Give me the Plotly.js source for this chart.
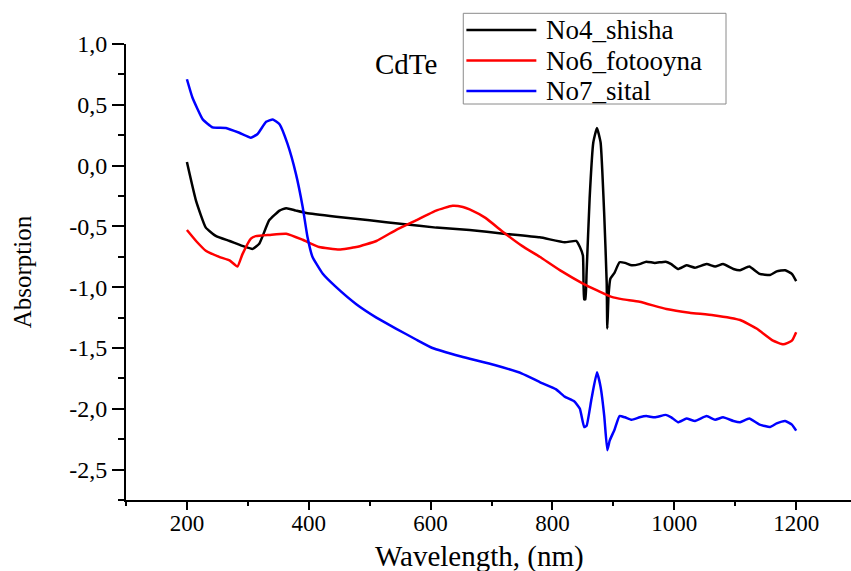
<!DOCTYPE html>
<html>
<head>
<meta charset="utf-8">
<script src="https://cdn.plot.ly/plotly-3.0.1.min.js"></script>
<style>
  html, body { margin: 0; padding: 0; background: #fff; }
  #chart { width: 851px; height: 571px; }
</style>
</head>
<body>
<div id="chart"></div>
<script>
// ---- Data ----
const wlShisha = [200, 215, 231, 248, 270, 291, 308, 319, 335, 352, 363, 379, 396, 445, 500, 554, 609, 664, 720, 779, 820, 839, 845, 850, 852, 854, 856, 861, 867, 873, 879, 885, 889, 890, 892, 895, 902, 910, 919, 930, 943, 954, 968, 986, 995, 1006, 1020, 1034, 1053, 1067, 1080, 1097, 1108, 1123, 1140, 1157, 1168, 1182, 1193, 1200];
const absShisha = [0.03, -0.29, -0.51, -0.58, -0.62, -0.66, -0.685, -0.64, -0.45, -0.37, -0.35, -0.37, -0.39, -0.42, -0.45, -0.48, -0.51, -0.53, -0.56, -0.59, -0.63, -0.62, -0.67, -0.74, -1.10, -1.10, -0.88, -0.27, 0.19, 0.31, 0.19, -0.41, -0.96, -1.34, -1.07, -0.93, -0.88, -0.795, -0.80, -0.82, -0.81, -0.79, -0.80, -0.79, -0.81, -0.85, -0.82, -0.84, -0.81, -0.83, -0.81, -0.85, -0.86, -0.83, -0.89, -0.90, -0.87, -0.86, -0.89, -0.95];

const wlFoto = [200, 215, 231, 253, 270, 283, 291, 305, 313, 335, 363, 390, 417, 450, 478, 511, 543, 576, 609, 636, 653, 664, 690, 720, 750, 779, 812, 850, 875, 897, 916, 943, 987, 1025, 1064, 1108, 1135, 1162, 1179, 1193, 1200];
const absFoto = [-0.53, -0.62, -0.70, -0.75, -0.78, -0.83, -0.73, -0.60, -0.58, -0.57, -0.56, -0.61, -0.67, -0.69, -0.67, -0.62, -0.53, -0.45, -0.37, -0.33, -0.34, -0.36, -0.43, -0.55, -0.66, -0.75, -0.86, -0.97, -1.03, -1.08, -1.10, -1.12, -1.18, -1.21, -1.23, -1.27, -1.34, -1.44, -1.47, -1.44, -1.37];

const wlSital = [200, 209, 226, 242, 264, 286, 305, 316, 330, 341, 352, 365, 379, 390, 398, 406, 423, 445, 478, 511, 543, 576, 603, 650, 705, 750, 779, 806, 820, 836, 845, 852, 856, 864, 873, 879, 885, 890, 894, 902, 910, 919, 930, 943, 954, 968, 986, 995, 1006, 1020, 1034, 1053, 1067, 1080, 1097, 1108, 1123, 1140, 1157, 1168, 1182, 1193, 1200];
const absSital = [0.71, 0.56, 0.38, 0.315, 0.31, 0.27, 0.23, 0.26, 0.36, 0.38, 0.34, 0.18, -0.07, -0.34, -0.59, -0.75, -0.89, -1.00, -1.14, -1.25, -1.34, -1.43, -1.50, -1.57, -1.64, -1.71, -1.78, -1.84, -1.90, -1.94, -2.00, -2.15, -2.14, -1.92, -1.70, -1.82, -2.06, -2.34, -2.26, -2.17, -2.06, -2.07, -2.09, -2.07, -2.06, -2.07, -2.05, -2.07, -2.11, -2.08, -2.10, -2.06, -2.09, -2.07, -2.10, -2.11, -2.08, -2.13, -2.15, -2.12, -2.10, -2.13, -2.18];

const seriesNames = ["No4_shisha", "No6_fotooyna", "No7_sital"];
const seriesColors = ["#000000", "#ff0000", "#0000ff"];
const legendLabel = "CdTe";

const xTickVals = [200, 400, 600, 800, 1000, 1200];
const xTickText = ["200", "400", "600", "800", "1000", "1200"];
const yTickVals = [1.0, 0.5, 0.0, -0.5, -1.0, -1.5, -2.0, -2.5];
const yTickText = ["1,0", "0,5", "0,0", "-0,5", "-1,0", "-1,5", "-2,0", "-2,5"];

const xTitle = "Wavelength, (nm)";
const yTitle = "Absorption";

// ---- Figure ----
const FONT = "Liberation Serif";
const xs = [wlShisha, wlFoto, wlSital];
const ys = [absShisha, absFoto, absSital];

const traces = xs.map((x, i) => ({
  x: x, y: ys[i], name: seriesNames[i], type: "scatter", mode: "lines",
  line: { color: seriesColors[i], width: 2.5, shape: "spline", smoothing: 0.4 },
  showlegend: false
}));

// manual legend (Origin-style box with long line samples)
const L = { x0: 0.4652, x1: 0.8276, y0: 0.8684, y1: 1.0673, lx0: 0.4695, lx1: 0.5660, tx: 0.5779,
            rows: [1.0307, 0.9638, 0.8969] };
const shapes = [{
  type: "rect", xref: "paper", yref: "paper", x0: L.x0, x1: L.x1, y0: L.y0, y1: L.y1,
  line: { color: "#8a8a8a", width: 1 }, fillcolor: "rgba(255,255,255,0)"
}];
const annotations = [];
seriesNames.forEach((n, i) => {
  shapes.push({ type: "line", xref: "paper", yref: "paper", x0: L.lx0, x1: L.lx1, y0: L.rows[i], y1: L.rows[i],
                line: { color: seriesColors[i], width: 2.5 } });
  annotations.push({ xref: "paper", yref: "paper", x: L.tx, y: L.rows[i], xanchor: "left", yanchor: "middle",
                     text: n, showarrow: false, borderpad: 0, font: { family: FONT, size: 27, color: "#000" } });
});
annotations.push({ xref: "paper", yref: "paper", x: 0.3862, y: 0.9561, xanchor: "center", yanchor: "middle",
                   text: legendLabel, showarrow: false, font: { family: FONT, size: 29, color: "#000" } });
// x-axis title, placed like the reference (at the very bottom of the picture)
annotations.push({ xref: "paper", yref: "paper", x: 0.4869, y: -0.162, xanchor: "center", yanchor: "bottom",
                   text: xTitle, showarrow: false, borderpad: 0, font: { family: FONT, size: 29, color: "#000" } });

const layout = {
  width: 851, height: 571,
  margin: { l: 126, r: 0, t: 44, b: 71, pad: 0 },
  paper_bgcolor: "#ffffff", plot_bgcolor: "#ffffff",
  font: { family: FONT, color: "#000" },
  showlegend: false,
  xaxis: {
    range: [100, 1290], showgrid: false, zeroline: false,
    showline: true, linecolor: "#000", linewidth: 2,
    ticks: "outside", ticklen: 8, tickwidth: 2, tickcolor: "#000",
    tickmode: "array", tickvals: xTickVals, ticktext: xTickText,
    ticklabelstandoff: -7,
    minor: { tickmode: "linear", tick0: 100, dtick: 100, ticks: "outside", ticklen: 4, tickwidth: 2, tickcolor: "#000" },
    tickfont: { family: FONT, size: 23, color: "#000" }
  },
  yaxis: {
    range: [-2.75, 1.0], showgrid: false, zeroline: false,
    showline: true, linecolor: "#000", linewidth: 2,
    ticks: "outside", ticklen: 12, tickwidth: 2, tickcolor: "#000",
    tickmode: "array", tickvals: yTickVals, ticktext: yTickText,
    minor: { tickmode: "linear", tick0: 0.25, dtick: 0.5, ticks: "outside", ticklen: 6, tickwidth: 2, tickcolor: "#000" },
    tickfont: { family: FONT, size: 24, color: "#000" },
    title: { text: yTitle, font: { family: FONT, size: 25, color: "#000" }, standoff: 30 }
  },
  shapes: shapes,
  annotations: annotations
};

Plotly.newPlot("chart", traces, layout, { displayModeBar: false, staticPlot: true });
</script>
</body>
</html>
